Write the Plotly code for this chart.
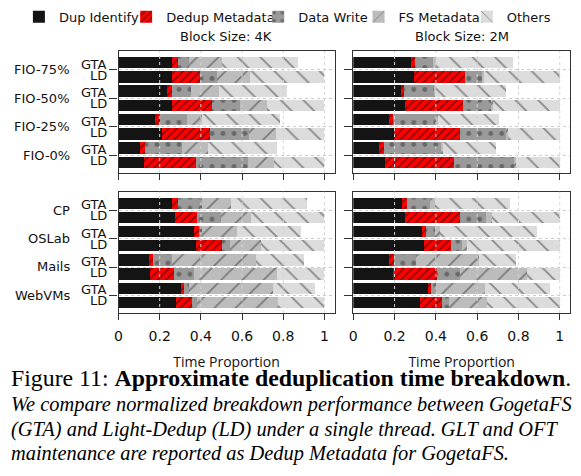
import plotly.graph_objects as go
from plotly.subplots import make_subplots

# bar order top -> bottom: each workload has a GTA bar then an LD bar
fio_names = ["FIO-75%", "FIO-50%", "FIO-25%", "FIO-0%"]
real_names = ["CP", "OSLab", "Mails", "WebVMs"]
systems = ["GTA", "LD"]

components = ["Dup Identify", "Dedup Metadata", "Data Write", "FS Metadata", "Others"]

# block size 4K, FIO workloads
fio_4k = {
    "Dup Identify":   [0.260, 0.260, 0.236, 0.260, 0.178, 0.212, 0.103, 0.123],
    "Dedup Metadata": [0.027, 0.136, 0.022, 0.192, 0.024, 0.230, 0.028, 0.252],
    "Data Write":     [0.053, 0.080, 0.096, 0.136, 0.133, 0.191, 0.175, 0.253],
    "FS Metadata":    [0.163, 0.163, 0.136, 0.135, 0.072, 0.130, 0.130, 0.128],
    "Others":         [0.369, 0.361, 0.329, 0.277, 0.377, 0.237, 0.335, 0.244],
}
# block size 2M, FIO workloads
fio_2m = {
    "Dup Identify":   [0.281, 0.294, 0.230, 0.249, 0.173, 0.196, 0.124, 0.152],
    "Dedup Metadata": [0.019, 0.247, 0.016, 0.281, 0.020, 0.321, 0.025, 0.338],
    "Data Write":     [0.085, 0.085, 0.147, 0.139, 0.213, 0.226, 0.281, 0.292],
    "FS Metadata":    [0.016, 0.008, 0.005, 0.010, 0.003, 0.008, 0.005, 0.008],
    "Others":         [0.373, 0.366, 0.342, 0.321, 0.297, 0.249, 0.258, 0.210],
}
# block size 4K, real workloads
real_4k = {
    "Dup Identify":   [0.258, 0.276, 0.369, 0.377, 0.147, 0.155, 0.303, 0.279],
    "Dedup Metadata": [0.029, 0.104, 0.024, 0.126, 0.020, 0.116, 0.016, 0.080],
    "Data Write":     [0.120, 0.118, 0.014, 0.040, 0.091, 0.096, 0.024, 0.024],
    "FS Metadata":    [0.139, 0.145, 0.168, 0.149, 0.410, 0.405, 0.409, 0.393],
    "Others":         [0.369, 0.357, 0.313, 0.308, 0.233, 0.228, 0.200, 0.224],
}
# block size 2M, real workloads
real_2m = {
    "Dup Identify":   [0.238, 0.252, 0.334, 0.342, 0.173, 0.193, 0.361, 0.324],
    "Dedup Metadata": [0.020, 0.265, 0.019, 0.132, 0.024, 0.211, 0.016, 0.106],
    "Data Write":     [0.116, 0.128, 0.045, 0.053, 0.108, 0.114, 0.024, 0.032],
    "FS Metadata":    [0.024, 0.029, 0.023, 0.022, 0.302, 0.325, 0.236, 0.188],
    "Others":         [0.360, 0.326, 0.470, 0.451, 0.183, 0.157, 0.315, 0.350],
}

x_ticks = [0, 0.2, 0.4, 0.6, 0.8, 1]
x_tick_text = ["0", "0.2", "0.4", "0.6", "0.8", "1"]

styles = {
    "Dup Identify":   dict(color="#141414"),
    "Dedup Metadata": dict(color="#ff0000", pattern=dict(shape="/", fgcolor="#111111", bgcolor="#ff0000", size=6, solidity=0.3, fillmode="overlay")),
    "Data Write":     dict(color="#9a9a9a", pattern=dict(shape=".", fgcolor="#333333", bgcolor="#9a9a9a", size=11, solidity=0.15, fillmode="overlay")),
    "FS Metadata":    dict(color="#bcbcbc", pattern=dict(shape="/", fgcolor="#333333", bgcolor="#bcbcbc", size=15, solidity=0.11, fillmode="overlay")),
    "Others":         dict(color="#dcdcdc", pattern=dict(shape="\\", fgcolor="#333333", bgcolor="#dcdcdc", size=16, solidity=0.11, fillmode="overlay")),
}

W, H = 581, 476
font = "DejaVu Sans"

# legend swatch centres (px) -- one legend box per item so spacing matches
legend_px = [35, 143, 276, 377, 486]
legend_ids = ["legend", "legend2", "legend3", "legend4", "legend5"]

fig = make_subplots(rows=2, cols=2, horizontal_spacing=0.03, vertical_spacing=0.04)

panels = [(1, 1, fio_4k), (1, 2, fio_2m), (2, 1, real_4k), (2, 2, real_2m)]
ypos = list(range(8))
for r, c, data in panels:
    for k, comp in enumerate(components):
        fig.add_trace(go.Bar(
            x=data[comp], y=ypos, orientation="h", name=comp,
            marker=dict(line=dict(width=0), **styles[comp]),
            width=0.8, showlegend=(r == 1 and c == 1), legend=legend_ids[k],
        ), row=r, col=c)

# panel domains in pixels
xdom = [(115.3 / W, 333 / W), (351.7 / W, 570 / W)]
ydom = [(1 - 173 / H, 1 - 51 / H), (1 - 313 / H, 1 - 191.7 / H)]

group_centers = [0.5, 2.5, 4.5, 6.5]
axis_style = dict(showline=True, mirror=True, linecolor="#333333", linewidth=1.2)

for r in (1, 2):
    for c in (1, 2):
        fig.update_xaxes(
            domain=xdom[c - 1], range=[0, 1.05], tickvals=x_ticks, ticktext=x_tick_text,
            ticks="outside", ticklen=6, tickcolor="#333333", showgrid=False,
            showticklabels=(r == 2), ticklabelstandoff=4,
            tickfont=dict(family=font, size=14, color="#111"),
            zeroline=False, **axis_style, row=r, col=c)
        fig.update_yaxes(
            domain=ydom[r - 1], range=[7.75, -0.82], tickvals=group_centers,
            ticks="outside", ticklen=8, tickcolor="#333333", showticklabels=False,
            showgrid=True, gridcolor="#cccccc", griddash="dot", gridwidth=1,
            zeroline=False, **axis_style, row=r, col=c)
        if r == 2:
            fig.update_xaxes(title=dict(text="Time Proportion", standoff=14,
                                        font=dict(family="Open Sans", size=14, color="#111")),
                             row=r, col=c)

# vertical dotted grid drawn over the bars
for ax in ["", "2", "3", "4"]:
    for t in x_ticks[1:]:
        fig.add_shape(type="line", xref="x" + ax, yref=f"y{ax} domain", x0=t, x1=t, y0=0, y1=1,
                      line=dict(color="#d4d4d4", width=1, dash="dot"), layer="above")

# row labels on the left panels
for r, names in ((1, fio_names), (2, real_names)):
    ax = "" if r == 1 else "3"
    for g, name in enumerate(names):
        yc = group_centers[g]
        fig.add_annotation(x=0, y=yc, xref=f"x{ax} domain", yref="y" + ax, text=name,
                           xanchor="right", yanchor="middle", xshift=-47, showarrow=False,
                           font=dict(family=font, size=13, color="#111"))
        for s, shift in zip(systems, (5.5, -5.5)):
            fig.add_annotation(x=0, y=yc, xref=f"x{ax} domain", yref="y" + ax, text=s,
                               xanchor="right", yanchor="middle", xshift=-10, yshift=shift,
                               showarrow=False, font=dict(family=font, size=13, color="#111"))

for x0, label in ((224 / W, "Block Size: 4K"), (461 / W, "Block Size: 2M")):
    fig.add_annotation(x=x0, y=1 - 37 / H, xref="paper", yref="paper", text=label,
                       xanchor="center", yanchor="middle", showarrow=False,
                       font=dict(family=font, size=13, color="#111"))

caption = [
    ("Figure 11: <b>Approximate deduplication time breakdown</b>.", 378, 23.8),
    ("<i>We compare normalized breakdown performance between GogetaFS</i>", 404, 20.4),
    ("<i>(GTA) and Light-Dedup (LD) under a single thread. GLT and OFT</i>", 429, 20.4),
    ("<i>maintenance are reported as Dedup Metadata for GogetaFS.</i>", 453, 20.4),
]
for text, ypx, size in caption:
    fig.add_annotation(x=5 / W, y=1 - ypx / H, xref="paper", yref="paper", text=text,
                       xanchor="left", yanchor="middle", showarrow=False,
                       font=dict(family="Liberation Serif", size=size, color="#000"))

legend_common = dict(orientation="h", xanchor="left", yanchor="middle", y=1 - 16.7 / H,
                     font=dict(family=font, size=13, color="#111"), itemwidth=30,
                     bgcolor="rgba(0,0,0,0)", borderwidth=0)
fig.update_layout(
    width=W, height=H, margin=dict(l=0, r=0, t=0, b=0),
    barmode="stack", plot_bgcolor="white", paper_bgcolor="white",
    font=dict(family=font, size=13, color="#111"),
    **{lid: dict(x=(px - 20) / W, **legend_common) for lid, px in zip(legend_ids, legend_px)},
)

fig.write_html("out.html", config={"displayModeBar": False},
               post_script="document.body.style.margin='0px';")
